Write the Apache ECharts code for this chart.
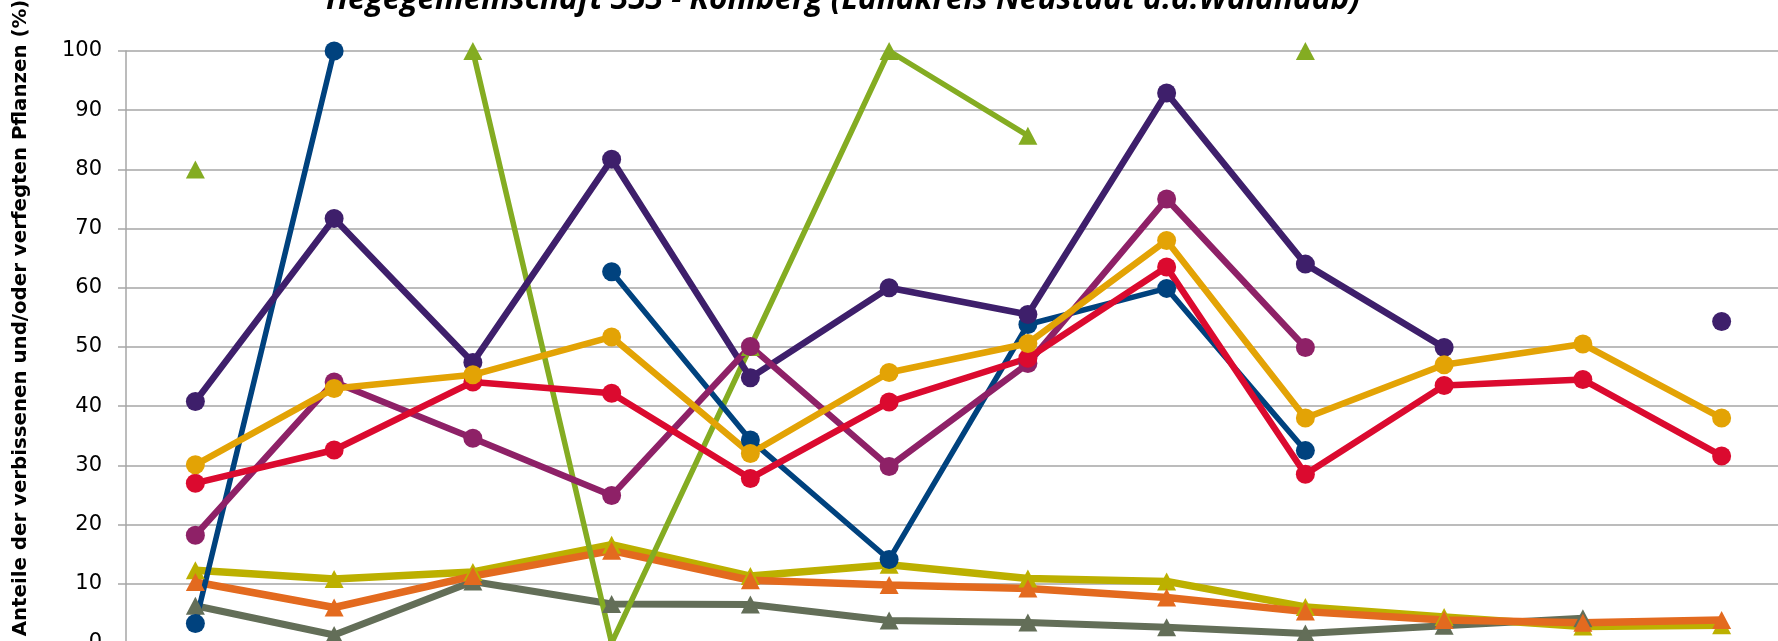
<!DOCTYPE html>
<html>
<head>
<meta charset="utf-8">
<script src="https://cdn.jsdelivr.net/npm/echarts@6/dist/echarts.min.js"></script>
<style>
html,body{margin:0;padding:0;background:#fff;}
#c{width:1778px;height:641px;}
</style>
</head>
<body>
<div id="c"></div>
<script>
const categories = ['1991','1994','1997','2000','2003','2006','2009','2012','2015','2018','2021','2024'];
const yTicks = [0,10,20,30,40,50,60,70,80,90,100];

// triangle series
const seriesGray   = [6.3, 1.35, 10.4, 6.6, 6.5, 3.8, 3.45, 2.65, 1.6, 2.9, 4.2, null];
const seriesYellow = [12.3, 10.8, 12.0, 16.6, 11.3, 13.2, 10.9, 10.4, 6.1, 4.4, 2.8, 3.0];
const seriesOrange = [10.3, 6.0, 11.3, 15.6, 10.6, 9.8, 9.2, 7.7, 5.3, 3.9, 3.4, 3.9];
const seriesGreen  = [80, null, 100, 0, 50, 100, 85.7, null, 100, null, null, null];
// circle series
const seriesBlue    = [3.3, 100, null, 62.7, 34.3, 14.1, 53.8, 59.9, 32.5, null, null, null];
const seriesMagenta = [18.2, 44.1, 34.6, 24.9, 50.1, 29.8, 47.2, 75.0, 49.9, null, null, null];
const seriesRed     = [27.0, 32.6, 44.1, 42.2, 27.8, 40.7, 48.1, 63.5, 28.5, 43.5, 44.5, 31.6];
const seriesGold    = [30.1, 43.0, 45.3, 51.7, 32.0, 45.7, 50.6, 68.0, 38.0, 47.0, 50.5, 38.0];
const seriesPurple  = [40.8, 71.7, 47.4, 81.7, 44.8, 60.0, 55.5, 92.9, 64.0, 49.9, null, 54.3];

function mk(name, data, color, symbol, size, width) {
  return {
    name: name, type: 'line', data: data, color: color,
    symbol: symbol, symbolSize: size, showSymbol: true, showAllSymbol: true,
    connectNulls: false, animation: false,
    lineStyle: {width: width, color: color},
    itemStyle: {color: color, borderWidth: 0}
  };
}

const chart = echarts.init(document.getElementById('c'), null, {renderer: 'canvas'});
chart.setOption({
  animation: false,
  backgroundColor: '#ffffff',
  title: {
    text: 'Hegegemeinschaft 353 - Kohlberg (Landkreis Neustadt a.d.Waldnaab)',
    left: 321, top: -21,
    textStyle: {fontFamily: 'Open Sans', fontWeight: 'bold', fontStyle: 'italic', fontSize: 31.6, color: '#000'}
  },
  graphic: [{
    type: 'text',
    rotation: Math.PI / 2,
    x: 21, y: 318,
    style: {
      text: 'Anteile der verbissenen und/oder verfegten Pflanzen (%)',
      font: 'bold 19.8px "DejaVu Sans"',
      fill: '#000', textAlign: 'center', textVerticalAlign: 'middle'
    }
  }],
  grid: {left: 126, top: 51, right: -13, bottom: -2, containLabel: false, outerBoundsMode: 'none'},
  xAxis: {
    type: 'category', data: categories, boundaryGap: true,
    axisLine: {show: true, lineStyle: {color: '#a6a6a6', width: 1.5}},
    axisTick: {show: false},
    axisLabel: {show: true, fontSize: 18, color: '#000'}
  },
  yAxis: {
    type: 'value', min: yTicks[0], max: yTicks[yTicks.length - 1], interval: 10,
    axisLine: {show: true, lineStyle: {color: '#a6a6a6', width: 1.5}},
    axisTick: {show: true, length: 8, lineStyle: {color: '#a6a6a6', width: 1.5}},
    axisLabel: {fontFamily: 'DejaVu Sans', fontSize: 21, color: '#000', margin: 24},
    splitLine: {show: true, lineStyle: {color: '#a6a6a6', width: 1.5}}
  },
  series: [
    mk('Gray', seriesGray, '#636e58', 'triangle', [19, 18], 7),
    mk('Yellow', seriesYellow, '#bcb000', 'triangle', [19, 18], 7.5),
    mk('Orange', seriesOrange, '#e36a1f', 'triangle', [19, 18], 7.5),
    mk('Green', seriesGreen, '#84ac22', 'triangle', [19, 18], 5.5),
    mk('Blue', seriesBlue, '#00427e', 'circle', 19, 5.5),
    mk('Purple', seriesPurple, '#3e1f6b', 'circle', 19, 6.5),
    mk('Magenta', seriesMagenta, '#8e2167', 'circle', 19, 6.5),
    mk('Red', seriesRed, '#db0a2f', 'circle', 19, 6.5),
    mk('Gold', seriesGold, '#e3a305', 'circle', 19, 6.5)
  ]
});
</script>
</body>
</html>
